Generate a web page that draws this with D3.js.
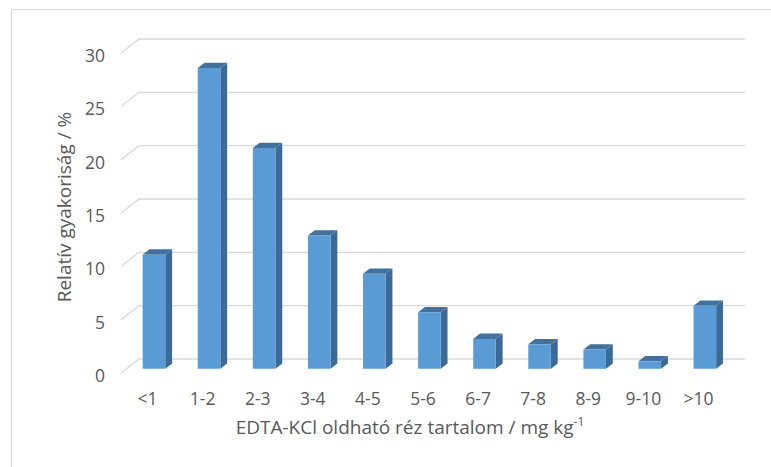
<!DOCTYPE html>
<html><head><meta charset="utf-8">
<script src="https://cdn.jsdelivr.net/npm/d3@7"></script>
<style>html,body{margin:0;padding:0;background:#fff;}svg{display:block;}</style>
</head><body>
<script>
const categories = ["<1","1-2","2-3","3-4","4-5","5-6","6-7","7-8","8-9","9-10",">10"];
const values = [10.7, 28.2, 20.7, 12.5, 8.9, 5.3, 2.8, 2.3, 1.8, 0.7, 5.9];
const yTicks = [0,5,10,15,20,25,30];
const yTitle = "Relatív gyakoriság / %";
const xTitle = "EDTA-KCl oldható réz tartalom / mg kg";

const W = 771, H = 467;
const svg = d3.select("body").append("svg").attr("width", W).attr("height", H);
const font = "'Open Sans', sans-serif";
const textCol = "#595959";

svg.append("rect").attr("x",11.5).attr("y",9.5).attr("width",W).attr("height",H)
  .attr("fill","#fff").attr("stroke","#d9d9d9").attr("stroke-width",1);

// back-wall scales
const x = d3.scaleBand().domain(categories).range([139,745]);
const y = d3.scaleLinear().domain([0,30]).range([359,39]);
const DX = -18, DY = 14; // front offset relative to back wall
const P = (px, py, d) => [px + DX*(1-d), py + DY*(1-d)];

// gridlines
const g = svg.append("g");
yTicks.forEach(t => {
  const f = P(139, y(t), 0);
  g.append("polyline")
    .attr("points", [f, [139, y(t)], [745, y(t)]].map(p=>p.join(",")).join(" "))
    .attr("fill","none").attr("stroke","#d9d9d9").attr("stroke-width",1.3);
  g.append("text").attr("x",105).attr("y", f[1]+2)
    .attr("text-anchor","end").attr("dominant-baseline","central")
    .attr("font-family",font).attr("font-size",17.5).attr("fill",textCol).text(t);
});

// bars
const dF = 0.3, dB = 0.68;
const bw = x.bandwidth()*0.41;
const bars = svg.append("g");
categories.forEach((c,i) => {
  const cx = x(c) + x.bandwidth()/2;
  const x0 = cx - bw/2, x1 = cx + bw/2;
  const yt = y(values[i]), yb = y(0);
  const f00 = P(x0,yb,dF), f10 = P(x1,yb,dF), f11 = P(x1,yt,dF), f01 = P(x0,yt,dF);
  const b10 = P(x1,yb,dB), b11 = P(x1,yt,dB), b01 = P(x0,yt,dB);
  const poly = pts => pts.map(p=>p.join(",")).join(" ");
  bars.append("polygon").attr("points", poly([f10,b10,b11,f11])).attr("fill","#3c6a98");
  bars.append("polygon").attr("points", poly([f01,f11,b11,b01])).attr("fill","#41719c");
  bars.append("polygon").attr("points", poly([f00,f10,f11,f01])).attr("fill","#5b9bd5");
});

// x labels
categories.forEach(c => {
  const p = P(x(c)+x.bandwidth()/2, y(0), 0);
  svg.append("text").attr("x", p[0]-1).attr("y", 398)
    .attr("text-anchor","middle").attr("dominant-baseline","central")
    .attr("font-family",font).attr("font-size",17.5).attr("fill",textCol).text(c);
});

// titles
const xt = svg.append("text").attr("x",410).attr("y",434).attr("text-anchor","middle")
  .attr("font-family",font).attr("font-size",19).attr("fill",textCol);
xt.append("tspan").text(xTitle);
xt.append("tspan").attr("font-size",12).attr("dy",-8).text("-1");

svg.append("text").attr("transform","translate(71,207) rotate(-90)")
  .attr("text-anchor","middle").attr("font-family",font).attr("font-size",19)
  .attr("fill",textCol).text(yTitle);
</script>
</body></html>
